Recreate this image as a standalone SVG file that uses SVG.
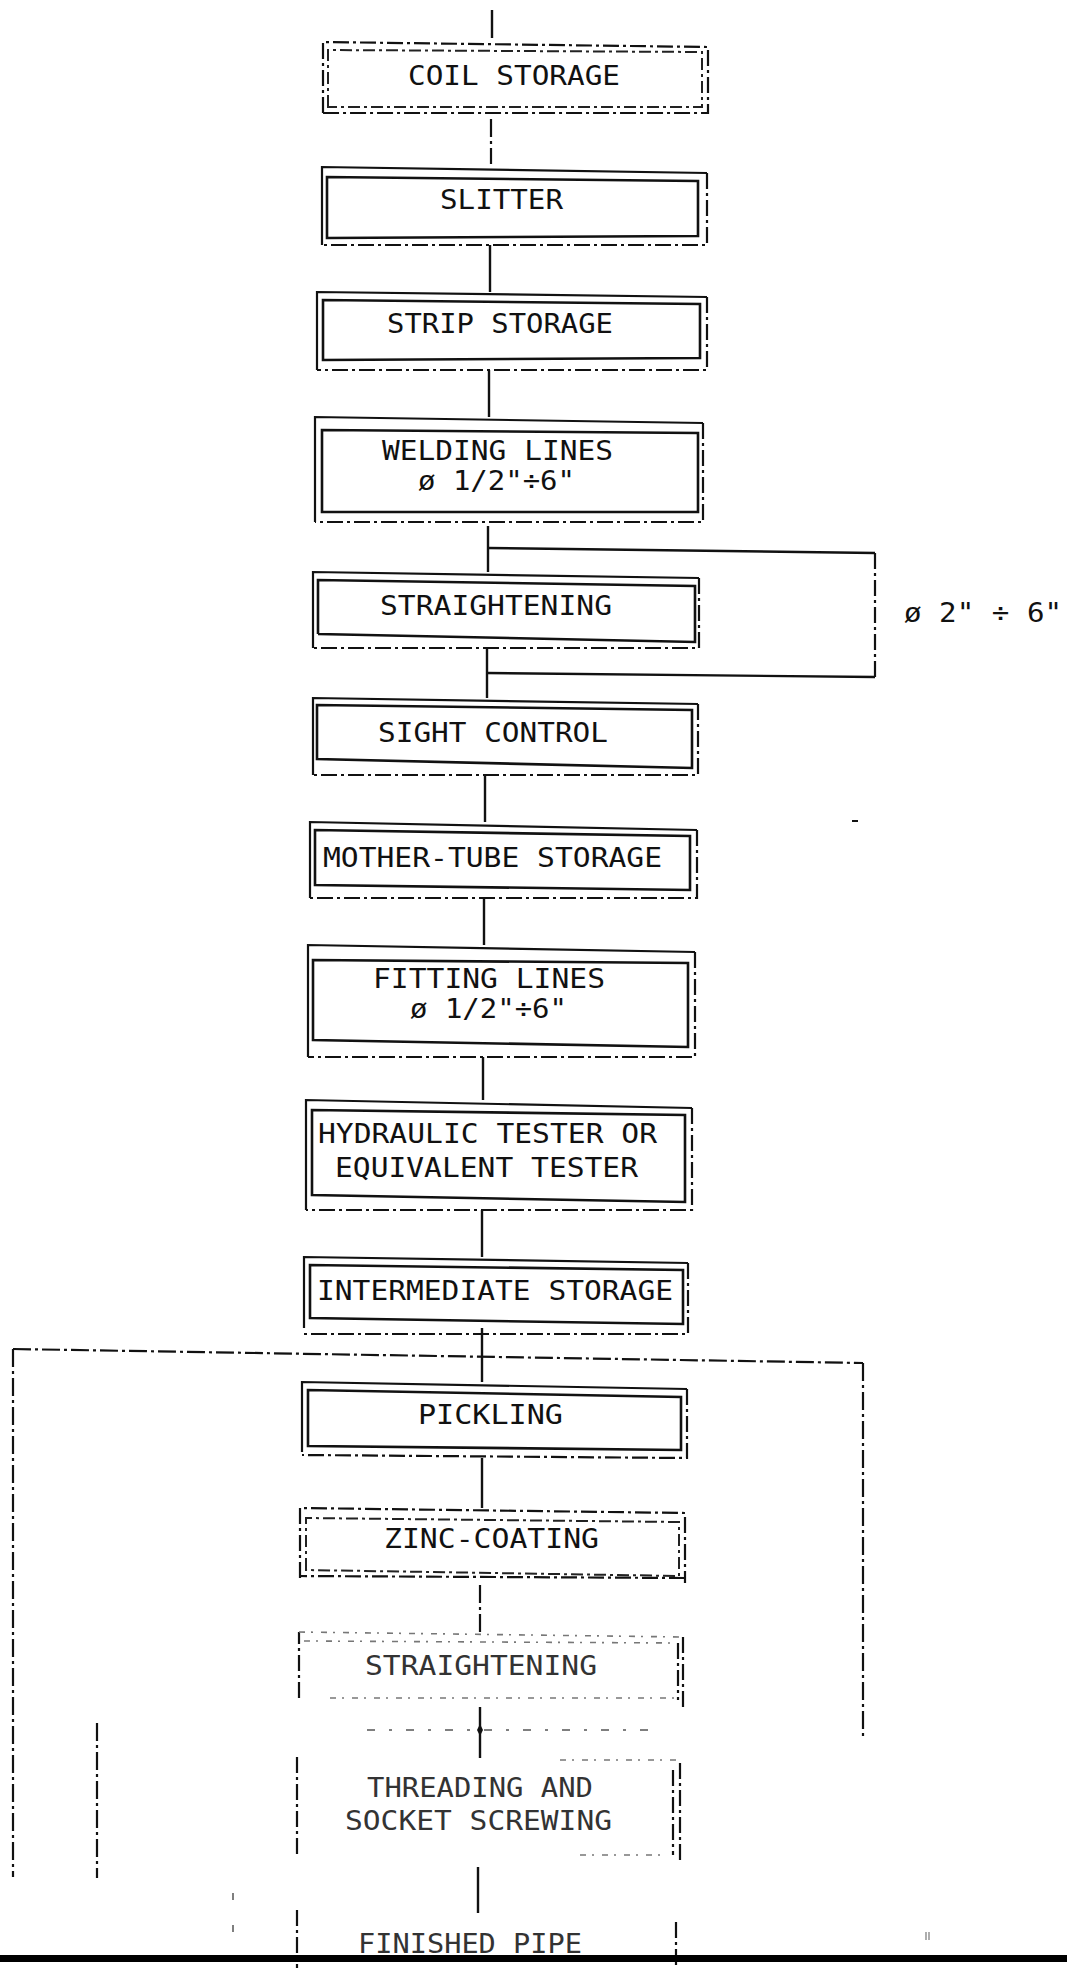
<svg xmlns="http://www.w3.org/2000/svg" width="1067" height="1968" viewBox="0 0 1067 1968">
<style>
.bg{fill:#ffffff}
.o{fill:none;stroke:#111;stroke-width:2.2}
.od{fill:none;stroke:#111;stroke-width:2.2;stroke-dasharray:16 4 3 4}
.i{fill:none;stroke:#111;stroke-width:2.6}
.id{fill:none;stroke:#222;stroke-width:2;stroke-dasharray:12 4 3 4}
.f{fill:none;stroke:#777;stroke-width:1.6;stroke-dasharray:6 6 2 8}
.c{fill:none;stroke:#111;stroke-width:2.4}
.cd{fill:none;stroke:#111;stroke-width:2.2;stroke-dasharray:18 4 3 4}
.cf{fill:none;stroke:#555;stroke-width:1.4;stroke-dasharray:8 14 3 14}
.t{font-family:"DejaVu Sans Mono","Liberation Mono",monospace;font-size:27px;fill:#111}
.tf{font-family:"DejaVu Sans Mono","Liberation Mono",monospace;font-size:27px;fill:#333}
</style>
<rect class="bg" x="0" y="0" width="1067" height="1968"/>

<g id="connectors">
<line class="c" x1="492" y1="10" x2="492" y2="38"/>
<line class="cd" x1="491" y1="119" x2="491" y2="164"/>
<line class="c" x1="490" y1="245" x2="490" y2="292"/>
<line class="c" x1="489" y1="370" x2="489" y2="417"/>
<line class="c" x1="488" y1="526" x2="488" y2="572"/>
<path class="c" d="M488 548 L875 553"/>
<path class="od" d="M875 553 V677"/>
<path class="c" d="M875 677 L487 673"/>
<line class="c" x1="487" y1="648" x2="487" y2="698"/>
<line class="c" x1="485" y1="775" x2="485" y2="822"/>
<line class="c" x1="484" y1="898" x2="484" y2="945"/>
<line class="c" x1="483" y1="1057" x2="483" y2="1100"/>
<line class="c" x1="482" y1="1210" x2="482" y2="1257"/>
<line class="c" x1="482" y1="1328" x2="482" y2="1382"/>
<path class="cd" d="M13 1349 L863 1363"/>
<path class="cd" d="M13 1349 V1877"/>
<path class="cd" d="M863 1363 V1737"/>
<path class="cd" d="M97 1723 V1878"/>
<line class="c" x1="482" y1="1458" x2="482" y2="1508"/>
<line class="cd" x1="480" y1="1585" x2="480" y2="1632"/>
<line class="c" x1="480" y1="1707" x2="480" y2="1758"/>
<path d="M480 1724 L483 1730 L480 1736 L477 1730 Z" fill="#111"/>
<path class="cf" d="M367 1730 H660"/>
<line class="c" x1="478" y1="1867" x2="478" y2="1913"/>
</g>

<g id="n-coil">
<path class="od" d="M323 113 V42 L708 47 V113 Z"/>
<path class="id" d="M328 107 V50 L702 52 V107 Z"/>
<text class="t" x="408" y="85" textLength="212" lengthAdjust="spacingAndGlyphs">COIL STORAGE</text>
</g>

<g id="n-slitter">
<path class="o" d="M322 245 V167 L707 173"/>
<path class="od" d="M707 173 V245 H322"/>
<path class="i" d="M327 238 V177 L698 181 V236 Z"/>
<text class="t" x="440" y="209" textLength="123" lengthAdjust="spacingAndGlyphs">SLITTER</text>
</g>

<g id="n-strip">
<path class="o" d="M317 370 V292 L707 297"/>
<path class="od" d="M707 297 V370 H317"/>
<path class="i" d="M323 360 V300 L700 304 V358 Z"/>
<text class="t" x="387" y="333" textLength="226" lengthAdjust="spacingAndGlyphs">STRIP STORAGE</text>
</g>

<g id="n-welding">
<path class="o" d="M315 522 V417 L703 423"/>
<path class="od" d="M703 423 V522 H315"/>
<path class="i" d="M322 512 V430 L698 433 V512 Z"/>
<text class="t" x="382" y="460" textLength="231" lengthAdjust="spacingAndGlyphs">WELDING LINES</text>
<text class="t" x="418" y="490" textLength="157" lengthAdjust="spacingAndGlyphs">ø 1/2"÷6"</text>
</g>

<g id="n-straightening">
<path class="o" d="M313 648 V572 L699 578"/>
<path class="od" d="M699 578 V648 H313"/>
<path class="i" d="M318 634 V580 L695 586 V642 L318 634"/>
<text class="t" x="380" y="615" textLength="232" lengthAdjust="spacingAndGlyphs">STRAIGHTENING</text>
</g>

<g id="n-sight">
<path class="o" d="M313 775 V698 L698 704"/>
<path class="od" d="M698 704 V775 H313"/>
<path class="i" d="M317 759 V705 L692 710 V768 Z"/>
<text class="t" x="378" y="742" textLength="230" lengthAdjust="spacingAndGlyphs">SIGHT CONTROL</text>
</g>

<g id="n-mother">
<path class="o" d="M310 898 V822 L697 830"/>
<path class="od" d="M697 830 V898 H310"/>
<path class="i" d="M315 885 V830 L690 836 V890 Z"/>
<text class="t" x="323" y="867" textLength="339" lengthAdjust="spacingAndGlyphs">MOTHER-TUBE STORAGE</text>
</g>

<g id="n-fitting">
<path class="o" d="M308 1057 V945 L695 952"/>
<path class="od" d="M695 952 V1057 H308"/>
<path class="i" d="M313 1040 V960 L688 963 V1047 Z"/>
<text class="t" x="373" y="988" textLength="232" lengthAdjust="spacingAndGlyphs">FITTING LINES</text>
<text class="t" x="410" y="1018" textLength="157" lengthAdjust="spacingAndGlyphs">ø 1/2"÷6"</text>
</g>

<g id="n-hydraulic">
<path class="o" d="M306 1210 V1100 L692 1108"/>
<path class="od" d="M692 1108 V1210 H306"/>
<path class="i" d="M312 1195 V1110 L685 1115 V1202 Z"/>
<text class="t" x="318" y="1143" textLength="339" lengthAdjust="spacingAndGlyphs">HYDRAULIC TESTER OR</text>
<text class="t" x="335" y="1177" textLength="303" lengthAdjust="spacingAndGlyphs">EQUIVALENT TESTER</text>
</g>

<g id="n-intermediate">
<path class="o" d="M304 1328 V1257 L688 1263"/>
<path class="od" d="M688 1263 V1334 H304"/>
<path class="i" d="M310 1318 V1265 L683 1270 V1324 Z"/>
<text class="t" x="317" y="1300" textLength="356" lengthAdjust="spacingAndGlyphs">INTERMEDIATE STORAGE</text>
</g>

<g id="n-pickling">
<path class="o" d="M302 1452 V1382 L687 1389"/>
<path class="od" d="M687 1389 V1458 L302 1455"/>
<path class="i" d="M308 1446 V1390 L681 1397 V1450 Z"/>
<text class="t" x="418" y="1424" textLength="145" lengthAdjust="spacingAndGlyphs">PICKLING</text>
</g>

<g id="n-zinc">
<path class="od" d="M300 1578 V1508 L685 1513 V1583"/>
<path class="od" d="M685 1578 L300 1576"/>
<path class="id" d="M306 1570 V1518 L679 1522 V1576 Z"/>
<text class="t" x="384" y="1548" textLength="215" lengthAdjust="spacingAndGlyphs">ZINC-COATING</text>
</g>

<g id="n-straightening2">
<path class="od" d="M299 1698 V1632"/>
<path class="f" d="M299 1632 L683 1637"/>
<path class="f" d="M304 1641 L678 1643"/>
<path class="od" d="M683 1637 V1708"/>
<path class="od" d="M678 1643 V1700"/>
<path class="f" d="M330 1698 H680"/>
<text class="tf" x="365" y="1675" textLength="232" lengthAdjust="spacingAndGlyphs">STRAIGHTENING</text>
</g>

<g id="n-threading">
<path class="od" d="M297 1757 V1857"/>
<path class="od" d="M680 1763 V1863"/>
<path class="od" d="M673 1770 V1855"/>
<path class="f" d="M560 1760 H680"/>
<path class="f" d="M580 1855 H660"/>
<text class="tf" x="367" y="1797" textLength="226" lengthAdjust="spacingAndGlyphs">THREADING AND</text>
<text class="tf" x="345" y="1830" textLength="267" lengthAdjust="spacingAndGlyphs">SOCKET SCREWING</text>
</g>

<g id="n-finished">
<path class="od" d="M297 1910 V1968"/>
<path class="od" d="M676 1922 V1968"/>
<text class="tf" x="358" y="1953" textLength="224" lengthAdjust="spacingAndGlyphs">FINISHED PIPE</text>
</g>

<g id="label-bypass">
<text class="t" x="904" y="622" textLength="158" lengthAdjust="spacingAndGlyphs">ø 2" ÷ 6"</text>
</g>

<g id="marks">
<line x1="852" y1="821" x2="858" y2="821" stroke="#111" stroke-width="2"/>
<line x1="233" y1="1893" x2="233" y2="1900" stroke="#555" stroke-width="1.5"/>
<line x1="233" y1="1925" x2="233" y2="1932" stroke="#555" stroke-width="1.5"/>
<line x1="926" y1="1932" x2="926" y2="1940" stroke="#777" stroke-width="1.2"/>
<line x1="929" y1="1932" x2="929" y2="1940" stroke="#777" stroke-width="1.2"/>
<rect x="0" y="1955" width="1067" height="7" fill="#000"/>
</g>
</svg>
